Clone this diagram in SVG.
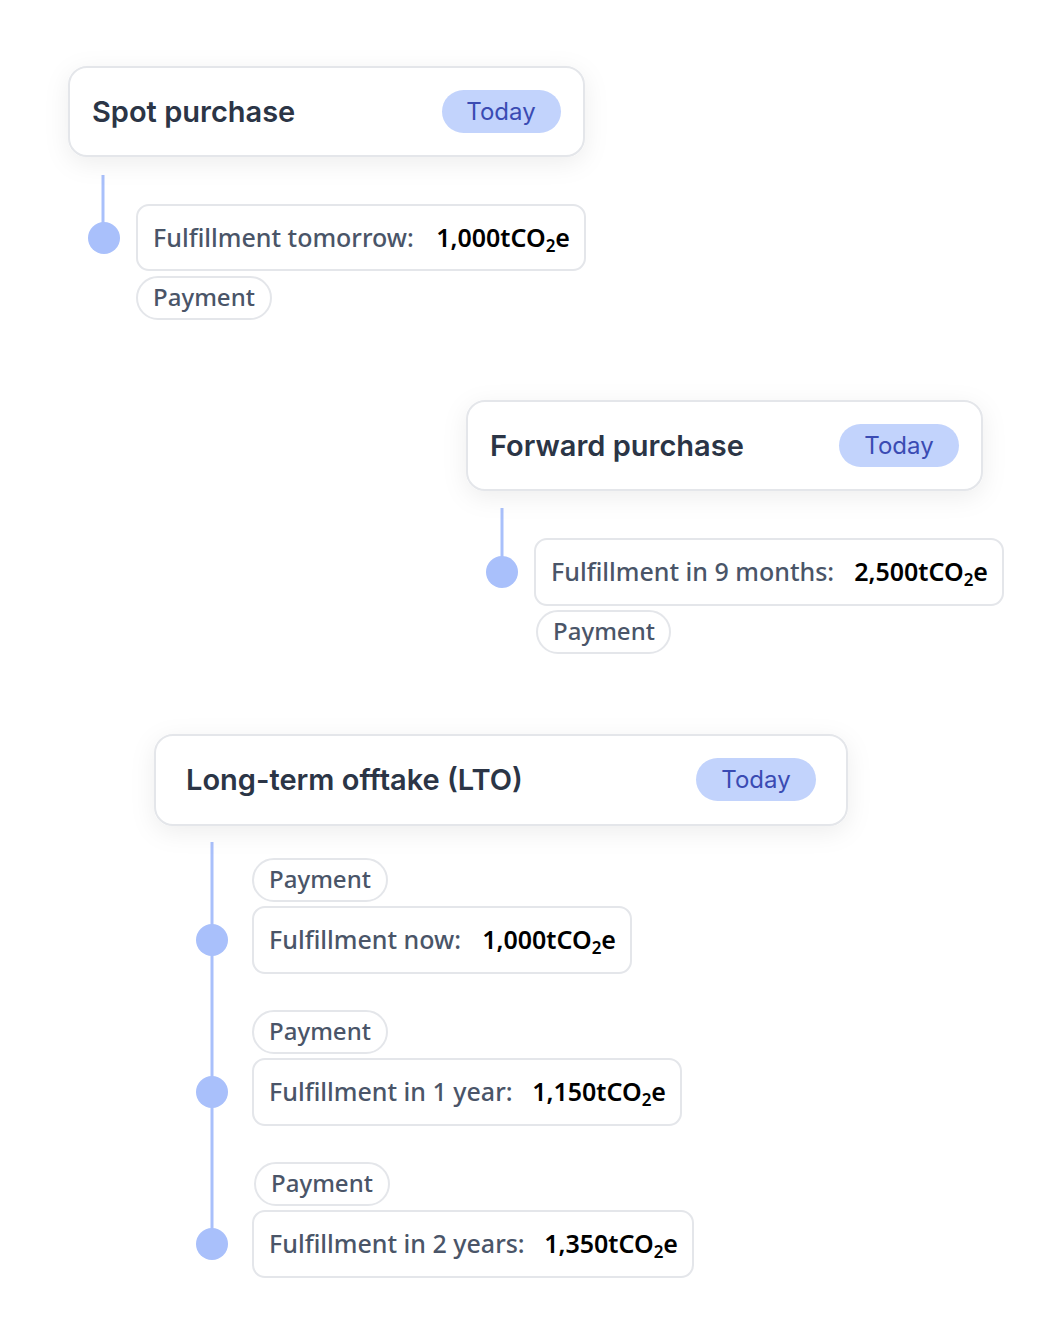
<svg xmlns="http://www.w3.org/2000/svg" width="1052" height="1342" viewBox="0 0 1052 1342">
<defs>
<filter id="sh" x="-20%" y="-50%" width="140%" height="200%"><feDropShadow dx="0" dy="6" stdDeviation="12" flood-color="#000" flood-opacity="0.07"/></filter>
<style>
.card{fill:#fff;stroke:#e4e6ea;stroke-width:2}
.box{fill:#fff;stroke:#e4e6ea;stroke-width:2}
.badge{fill:#c2d3fc}
.title{font-family:Inter,"Noto Sans",sans-serif;font-weight:600;font-size:29px;fill:#2b3546}
.bt{font-family:Inter,"Noto Sans",sans-serif;font-size:24px;fill:#3a4bb3;text-anchor:middle}
.lab{font-family:"Noto Sans",sans-serif;font-size:25px;font-weight:500;fill:#4a5568}
.val{font-family:"Noto Sans",sans-serif;font-size:25px;font-weight:600;fill:#000;text-anchor:end}
.pay{font-family:"Noto Sans",sans-serif;font-size:24px;font-weight:500;fill:#4a5568;text-anchor:middle}
.ln{stroke:#a9c0fb;stroke-width:3;fill:none}
.dot{fill:#a9c0fb}
</style>
</defs>
<rect width="1052" height="1342" fill="#fff"/>
<g id="connectors">
<line class="ln" x1="103" y1="175" x2="103" y2="238"/>
<line class="ln" x1="502" y1="508" x2="502" y2="572"/>
<line class="ln" x1="212" y1="842" x2="212" y2="1244"/>
<circle class="dot" cx="104" cy="238" r="16"/>
<circle class="dot" cx="502" cy="572" r="16"/>
<circle class="dot" cx="212" cy="940" r="16"/>
<circle class="dot" cx="212" cy="1092" r="16"/>
<circle class="dot" cx="212" cy="1244" r="16"/>
</g>
<g id="spot">
<rect class="card" x="69" y="67" width="515" height="89" rx="18" filter="url(#sh)"/>
<text class="title" x="92" y="122">Spot purchase</text>
<rect class="badge" x="442" y="90" width="119" height="43" rx="21.5"/>
<text class="bt" x="501" y="120">Today</text>
</g>
<g id="spot-fulfill">
<rect class="box" x="137" y="205" width="448" height="65" rx="12"/>
<text class="lab" x="153" y="247">Fulfillment tomorrow:</text>
<text class="val" x="570" y="247">1,000tCO<tspan font-size="17" dy="5">2</tspan><tspan dy="-5">e</tspan></text>
</g>
<g id="spot-payment">
<rect class="box" x="137" y="277" width="134" height="42" rx="21"/>
<text class="pay" x="204" y="306">Payment</text>
</g>
<g id="forward">
<rect class="card" x="467" y="401" width="515" height="89" rx="18" filter="url(#sh)"/>
<text class="title" x="490" y="456">Forward purchase</text>
<rect class="badge" x="839" y="424" width="120" height="43" rx="21.5"/>
<text class="bt" x="899" y="454">Today</text>
</g>
<g id="forward-fulfill">
<rect class="box" x="535" y="539" width="468" height="66" rx="12"/>
<text class="lab" x="551" y="581">Fulfillment in 9 months:</text>
<text class="val" x="988" y="581">2,500tCO<tspan font-size="17" dy="5">2</tspan><tspan dy="-5">e</tspan></text>
</g>
<g id="forward-payment">
<rect class="box" x="537" y="611" width="133" height="42" rx="21"/>
<text class="pay" x="604" y="640">Payment</text>
</g>
<g id="lto">
<rect class="card" x="155" y="735" width="692" height="90" rx="18" filter="url(#sh)"/>
<text class="title" x="186" y="790">Long-term offtake (LTO)</text>
<rect class="badge" x="696" y="758" width="120" height="43" rx="21.5"/>
<text class="bt" x="756" y="788">Today</text>
</g>
<g id="lto-pay1"><rect class="box" x="253" y="859" width="134" height="42" rx="21"/><text class="pay" x="320" y="888">Payment</text></g>
<g id="lto-f1"><rect class="box" x="253" y="907" width="378" height="66" rx="12"/><text class="lab" x="269" y="949">Fulfillment now:</text><text class="val" x="616" y="949">1,000tCO<tspan font-size="17" dy="5">2</tspan><tspan dy="-5">e</tspan></text></g>
<g id="lto-pay2"><rect class="box" x="253" y="1011" width="134" height="42" rx="21"/><text class="pay" x="320" y="1040">Payment</text></g>
<g id="lto-f2"><rect class="box" x="253" y="1059" width="428" height="66" rx="12"/><text class="lab" x="269" y="1101">Fulfillment in 1 year:</text><text class="val" x="666" y="1101">1,150tCO<tspan font-size="17" dy="5">2</tspan><tspan dy="-5">e</tspan></text></g>
<g id="lto-pay3"><rect class="box" x="255" y="1163" width="134" height="42" rx="21"/><text class="pay" x="322" y="1192">Payment</text></g>
<g id="lto-f3"><rect class="box" x="253" y="1211" width="440" height="66" rx="12"/><text class="lab" x="269" y="1253">Fulfillment in 2 years:</text><text class="val" x="678" y="1253">1,350tCO<tspan font-size="17" dy="5">2</tspan><tspan dy="-5">e</tspan></text></g>
</svg>
